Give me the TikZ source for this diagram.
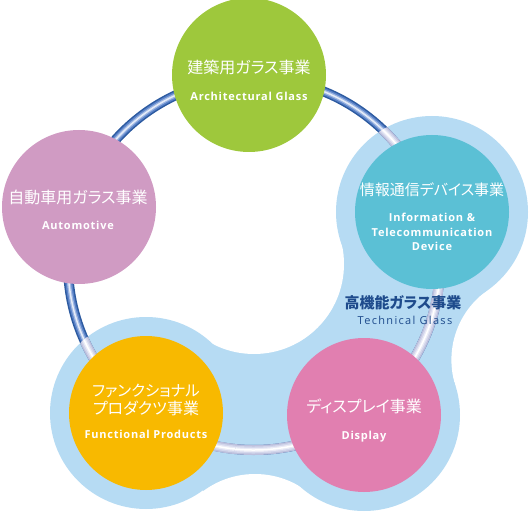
\documentclass[tikz,border=0pt]{standalone}
\usepackage{fontspec}
\newfontfamily\jp[RawFeature=+palt]{Noto Sans CJK JP}
\newfontfamily\en[LetterSpace=7]{Open Sans}
\newfontfamily\ent[LetterSpace=12]{Open Sans}
\definecolor{blobc}{HTML}{B6DBF3}
\definecolor{greenc}{HTML}{9EC83C}
\definecolor{mauvec}{HTML}{D09BC3}
\definecolor{tealc}{HTML}{5BC0D5}
\definecolor{pinkc}{HTML}{E17FB0}
\definecolor{orangec}{HTML}{F8B900}
\definecolor{titlec}{HTML}{1E4B8C}
\definecolor{tubeA}{HTML}{2C5AA0}
\definecolor{tubeB}{HTML}{5A82C8}
\definecolor{tubeC}{HTML}{9DB6E2}
\definecolor{tubeD}{HTML}{E6ECF8}
\definecolor{paleA}{HTML}{BCC0DD}
\definecolor{paleB}{HTML}{D3D6EB}
\definecolor{paleC}{HTML}{EAEBF6}
\begin{document}
\begin{tikzpicture}[x=1pt,y=1pt,
  bigcirc/.style={circle, minimum size=154pt, inner sep=0pt},
  jpl/.style={text=white, font=\jp\fontsize{16}{16}\selectfont, anchor=base, inner sep=0pt},
  enl/.style={text=white, font=\en\bfseries\fontsize{11}{11}\selectfont, anchor=base, inner sep=0pt}]
\useasboundingbox (0,0) rectangle (530,512);
\coordinate (C) at (254,248);
\coordinate (T) at (432,300);
\coordinate (D) at (364,97);
\coordinate (O) at (146,99);
\coordinate (FR) at (536.6,152.1);
\coordinate (FB) at (255,-49);
% light blue blob
\fill[blobc] (T) -- (FR) -- (D) -- (FB) -- (O) -- (C) -- cycle;
\fill[white] (C) circle (90) (FR) circle (85.2) (FB) circle (87);
\fill[blobc] (T) circle (96) (D) circle (96) (O) circle (96);
% ring (dark part)
\draw[line width=10, tubeA] (C) circle (186);
\draw[line width=7, tubeB] (C) circle (186);
\draw[line width=4, tubeC] (C) circle (186);
\draw[line width=1.5, tubeD] (C) circle (186);
% ring (pale part inside blob)
\draw[line width=10, paleA] ([shift={(-126:186)}]C) arc[start angle=-126, end angle=16, radius=186];
\draw[line width=7, paleB] ([shift={(-126:186)}]C) arc[start angle=-126, end angle=16, radius=186];
\draw[line width=4, paleC] ([shift={(-126:186)}]C) arc[start angle=-126, end angle=16, radius=186];
\draw[line width=1.5, white] ([shift={(-126:186)}]C) arc[start angle=-126, end angle=16, radius=186];
\begin{scope}
\clip (T) circle (96) (O) circle (96);
\draw[line width=10, paleA] (C) circle (186);
\draw[line width=7, paleB] (C) circle (186);
\draw[line width=4, paleC] (C) circle (186);
\draw[line width=1.5, white] (C) circle (186);
\end{scope}
% circles
\node[bigcirc, fill=greenc] (arch) at (249,437) {};
\node[bigcirc, fill=mauvec] (auto) at (79,305) {};
\node[bigcirc, fill=tealc] (info) at (T) {};
\node[bigcirc, fill=pinkc] (disp) at (D) {};
\node[bigcirc, fill=orangec] (func) at (O) {};
% texts
\node[jpl] (archjp) at (249,438.3) {建築用ガラス事業};
\node[enl] (archen) at (249,411.8) {Architectural Glass};
\node[jpl] (autojp) at (78,308.3) {自動車用ガラス事業};
\node[enl] (autoen) at (78,282.8) {Automotive};
\node[jpl, font=\jp\fontsize{15}{15}\selectfont] (infojp) at (432,316.3) {情報通信デバイス事業};
\node[enl] (infoen1) at (432,290.8) {Information \&};
\node[enl] (infoen2) at (432,275.8) {Telecommunication};
\node[enl] (infoen3) at (432,261.8) {Device};
\node[jpl] (dispjp) at (364,99.3) {ディスプレイ事業};
\node[enl] (dispen) at (364,72.8) {Display};
\node[jpl, font=\jp\fontsize{15.4}{15.4}\selectfont] (funcjp1) at (146,115.3) {ファンクショナル};
\node[jpl] (funcjp2) at (146,97.3) {プロダクツ事業};
\node[enl] (funcen) at (146,73.8) {Functional Products};
\node[jpl, text=titlec, font=\jp\bfseries\fontsize{15}{15}\selectfont] (techjp) at (403,203.5) {高機能ガラス事業};
\node[enl, text=titlec, font=\ent\fontsize{11}{11}\selectfont] (techen) at (405,187.7) {Technical Glass};
\end{tikzpicture}
\end{document}
